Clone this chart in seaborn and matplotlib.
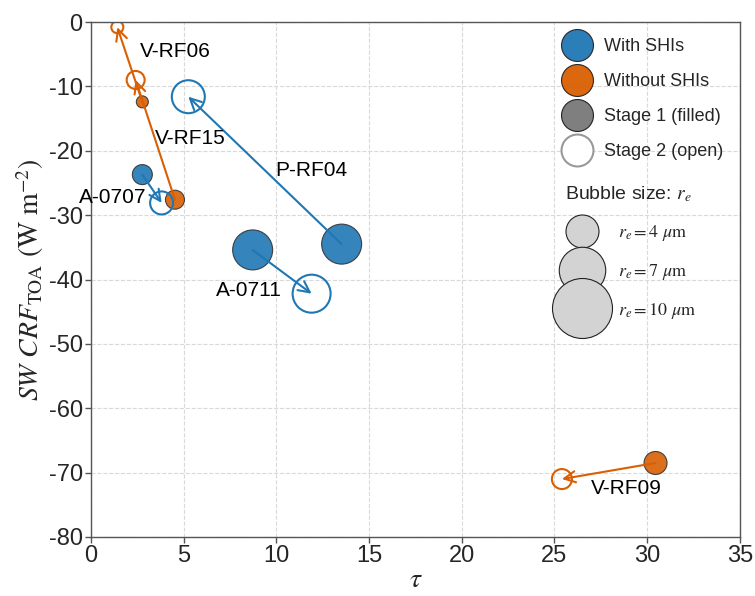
import matplotlib
matplotlib.use("Agg")
import matplotlib.pyplot as plt
from matplotlib.lines import Line2D
import seaborn as sns
import pandas as pd

# ---------------- data ----------------
cases = ["V-RF06", "V-RF15", "A-0707", "P-RF04", "A-0711", "V-RF09"]
groups = ["Without SHIs", "Without SHIs", "With SHIs", "With SHIs", "With SHIs", "Without SHIs"]
tau_stage1 = [2.77, 4.53, 2.77, 13.52, 8.72, 30.45]
crf_stage1 = [-12.4, -27.6, -23.7, -34.5, -35.4, -68.5]
re_stage1 = [3.0, 4.75, 5.0, 10.0, 10.0, 5.75]
tau_stage2 = [1.42, 2.41, 3.81, 5.25, 11.9, 25.4]
crf_stage2 = [-0.8, -9.0, -28.1, -11.6, -42.2, -71.0]
re_stage2 = [3.0, 4.5, 5.75, 8.25, 9.5, 5.0]
label_tau = [4.53, 5.34, 1.19, 11.9, 8.54, 28.9]
label_crf = [-4.6, -18.1, -27.2, -23.0, -41.7, -72.4]
legend_re = [4, 7, 10]
x_ticks = [0, 5, 10, 15, 20, 25, 30, 35]
y_ticks = [-80, -70, -60, -50, -40, -30, -20, -10, 0]

# ---------------- style ----------------
sns.set_style("whitegrid", {"grid.linestyle": "--", "grid.color": "#d9d9d9"})
plt.rcParams["font.family"] = ["Liberation Sans", "DejaVu Sans"]
plt.rcParams["mathtext.fontset"] = "stix"
plt.rcParams["axes.unicode_minus"] = False

palette = {"With SHIs": "#1f77b4", "Without SHIs": "#d95f02"}
SERIF = ["STIXGeneral", "Liberation Serif", "DejaVu Serif"]


def area(r):
    return (2.88 * r) ** 2


df1 = pd.DataFrame({"case": cases, "group": groups, "tau": tau_stage1,
                    "crf": crf_stage1, "re": re_stage1})
df2 = pd.DataFrame({"case": cases, "group": groups, "tau": tau_stage2,
                    "crf": crf_stage2, "re": re_stage2})
df1["area"] = area(df1["re"])
df2["area"] = area(df2["re"])

fig, ax = plt.subplots(figsize=(7.55, 5.96), dpi=100)
fig.subplots_adjust(left=0.1205, right=0.980, top=0.963, bottom=0.099)

# stage 1 (filled)
sns.scatterplot(data=df1, x="tau", y="crf", hue="group", palette=palette,
                size="area", sizes=(0, 1000), size_norm=(0, 1000),
                edgecolor="#333333", linewidth=0.8, alpha=0.9,
                legend=False, ax=ax, zorder=2)
# stage 2 (open)
sns.scatterplot(data=df2, x="tau", y="crf", hue="group", palette=palette,
                size="area", sizes=(0, 1000), size_norm=(0, 1000),
                legend=False, ax=ax, zorder=2)
coll = ax.collections[-1]
fc = coll.get_facecolors()
coll.set_edgecolors(fc)
coll.set_facecolor("none")
coll.set_linewidth(1.5)

# arrows stage1 -> stage2
for i in range(len(cases)):
    ax.annotate("", xy=(tau_stage2[i], crf_stage2[i]),
                xytext=(tau_stage1[i], crf_stage1[i]),
                arrowprops=dict(arrowstyle="->", color=palette[groups[i]],
                                lw=1.5, shrinkA=0, shrinkB=0,
                                mutation_scale=20),
                zorder=3)

# case labels
for i in range(len(cases)):
    ax.text(label_tau[i], label_crf[i], cases[i], ha="center", va="center",
            fontsize=15, color="black", zorder=4, clip_on=False)

ax.set_xlim(0, 35)
ax.set_ylim(-80, 0)
ax.set_xticks(x_ticks)
ax.set_yticks(y_ticks)
ax.tick_params(axis="both", labelsize=17, length=4, width=1,
               color="#555555", bottom=True, left=True, pad=2)
for sp in ax.spines.values():
    sp.set_color("#555555")
    sp.set_linewidth(1.0)
ax.grid(True, linestyle="--", color="#d9d9d9", linewidth=0.8)

ax.set_xlabel(r"$\tau$", fontsize=20, labelpad=0)
ax.set_ylabel(r"$SW\ CRF_{\mathrm{TOA}}$ (W m$^{-2}$)", fontsize=20,
              family=SERIF, labelpad=2)

# legend 1: colour / stage
h1 = [
    Line2D([], [], ls="", marker="o", markersize=23, markerfacecolor=palette["With SHIs"],
           markeredgecolor="#222222", markeredgewidth=0.8, alpha=0.95),
    Line2D([], [], ls="", marker="o", markersize=23, markerfacecolor=palette["Without SHIs"],
           markeredgecolor="#222222", markeredgewidth=0.8, alpha=0.95),
    Line2D([], [], ls="", marker="o", markersize=23, markerfacecolor="#7f7f7f",
           markeredgecolor="#222222", markeredgewidth=0.8),
    Line2D([], [], ls="", marker="o", markersize=23, markerfacecolor="white",
           markeredgecolor="#999999", markeredgewidth=1.5),
]
l1 = ["With SHIs", "Without SHIs", "Stage 1 (filled)", "Stage 2 (open)"]
leg1 = ax.legend(h1, l1, loc="upper left", bbox_to_anchor=(0.730, 0.969),
                 frameon=False, fontsize=13, borderpad=0, borderaxespad=0,
                 handlelength=1.4, handletextpad=0.8, labelspacing=1.0)
ax.add_artist(leg1)

# legend 2: bubble size
h2 = []
for r in legend_re:
    d_pt = (4.5 * r + 15) * 0.72
    h2.append(Line2D([], [], ls="", marker="o", markersize=d_pt,
                     markerfacecolor="#d3d3d3", markeredgecolor="#222222",
                     markeredgewidth=0.8))
l2 = [rf"$r_e = {r}\ \mu$m" for r in legend_re]
leg2 = ax.legend(h2, l2, loc="upper left", bbox_to_anchor=(0.730, 0.684),
                 frameon=False, fontsize=13, borderpad=0, borderaxespad=0,
                 handlelength=1.96, handletextpad=1.0, labelspacing=1.04,
                 title=r"Bubble size: $r_e$", title_fontsize=14,
                 alignment="left")
for t in leg2.get_texts():
    t.set_family(SERIF)

fig.savefig("out.png", dpi=100)
